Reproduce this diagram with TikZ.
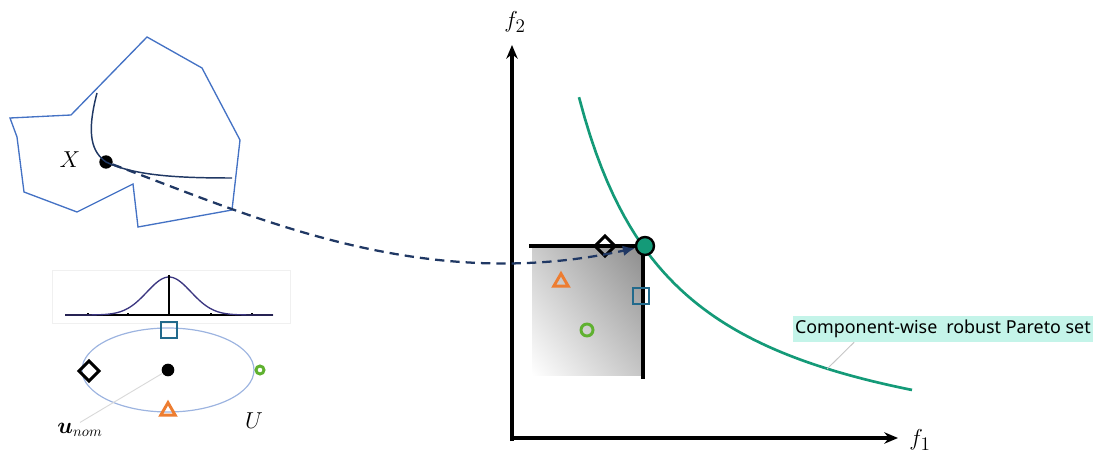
\documentclass[tikz,border=0pt]{standalone}
\usepackage{amsmath}
\usepackage{fontspec}
\newfontfamily\pflabelfont{Noto Sans}
\usetikzlibrary{arrows.meta,positioning,shapes.geometric,shadings}
\definecolor{pfNavy}{HTML}{203864}
\definecolor{pfBlue}{HTML}{4472C4}
\definecolor{pfLight}{HTML}{9DB4E0}
\definecolor{pfTeal}{HTML}{149A78}
\definecolor{pfSquare}{HTML}{226A8C}
\definecolor{pfOrange}{HTML}{ED7D31}
\definecolor{pfGreen}{HTML}{5FB130}
\definecolor{pfMint}{HTML}{C4F4E9}
\definecolor{pfPurple}{HTML}{3B3680}
\tikzset{
  every picture/.style={font=\fontsize{19}{22}\selectfont},
  pf axis/.style={draw=black, line width=2.4pt, line cap=butt,
    -{Stealth[length=3.6mm,width=3mm]}},
  pf edge/.style={draw=black, line width=2.4pt},
  pf domain/.style={draw=pfBlue, line width=1pt, line join=miter},
  pf path/.style={draw=pfNavy, line width=1.1pt},
  pf front/.style={draw=pfTeal, line width=2pt},
  pf map/.style={draw=pfNavy, line width=1.7pt, dash pattern=on 7pt off 4.5pt,
    -{Latex[length=3.2mm,width=2.8mm]}},
  pf leader/.style={draw=gray!45, line width=0.7pt},
  pf square/.style={draw=pfSquare, line width=2.2pt, minimum size=12pt, inner sep=0pt},
  pf diamond/.style={diamond, draw=black, line width=2.2pt, minimum size=16pt, inner sep=0pt},
  pf circle/.style={circle, draw=pfGreen, line width=2.2pt, minimum size=7pt, inner sep=0pt},
  pf triangle/.style={regular polygon, regular polygon sides=3, draw=pfOrange,
    line width=2.2pt, minimum size=12.5pt, inner sep=0pt},
  pf dot/.style={circle, fill=black, minimum size=9.5pt, inner sep=0pt}
}
\begin{document}
\begin{tikzpicture}[x=0.75pt,y=-0.75pt]
  \useasboundingbox (0,0) rectangle (1093,456);
  % decision space
  \draw[pf domain] (10,118) -- (17,137) -- (24,192) -- (77,212) -- (133,184) -- (138,227)
    -- (232,210) -- (240,140) -- (202,68) -- (147,37) -- (71,115) -- cycle;
  \node[pf dot, minimum size=10pt] (xopt) at (106,162) {};
  \draw[pf path] (97,93) .. controls (86,135) and (92,152) .. (xopt.center)
    .. controls (135,176) and (180,178) .. (232,178);
  \node (xlabel) at (70,160) {$X$};
  % uncertainty set
  \draw[draw=gray!12, line width=0.6pt] (52,270) rectangle (290,323);
  \draw[line width=0.8pt] (65,315) -- (273,315);
  \foreach \tx in {88,128,211,252}
    \draw[line width=0.8pt] (\tx,315) -- (\tx,313);
  \draw[draw=pfPurple, line width=1pt] plot[domain=65:273, samples=80]
    (\x, {315 - 38*exp(-((\x-169)/22)^2/2)});
  \draw[line width=1.7pt] (169,275) -- (169,315);
  \draw[draw=pfLight, line width=0.9pt] (168,370) ellipse [x radius=86, y radius=42];
  \node[pf dot] (unom) at (168,370) {};
  \node[pf square] (usq) at (169,330) {};
  \node[pf diamond] (udia) at (89,371) {};
  \node[pf circle, minimum size=6pt] (ucirc) at (260,370) {};
  \node[pf triangle] (utri) at (168,411) {};
  \node[font=\fontsize{16}{19}\selectfont] (unomlabel) at (80,430) {$\boldsymbol{u}_{nom}$};
  \node (ulabel) at (254,421) {$U$};
  \draw[pf leader, draw=gray!30] (unomlabel.north) ++(0,-3pt) -- (unom);
  % objective space
  \shade[upper left=gray!40, upper right=gray!90, lower left=white, lower right=gray!45]
    (532,246) rectangle (643,375);
  \coordinate (origin) at (512,441);
  \coordinate (f2end) at (512,45);
  \coordinate (hstart) at (510,438);
  \coordinate (f1end) at (898,438);
  \draw[pf axis] (origin) -- (f2end);
  \draw[pf axis] (hstart) -- (f1end);
  \node (ftwo) at (515,22) {$f_2$};
  \node (fone) at (920,440) {$f_1$};
  \draw[pf edge] (529,246) -- (643,246) -- (643,379);
  \draw[pf front] plot[domain=579:912, samples=60] (\x, {477 - 376/((\x-480)/100)});
  \node[pf diamond] (fdia) at (605,246) {};
  \node[pf triangle] (ftri) at (561,282) {};
  \node[pf square] (fsq) at (641,296) {};
  \node[pf circle, minimum size=9pt] (fcirc) at (587,330) {};
  \node[circle, fill=pfTeal, draw=black, line width=1.8pt, minimum size=13.5pt,
    inner sep=0pt] (fopt) at (645,246) {};
  \draw[pf map] (xopt) .. controls (250,215) and (420,295) .. (fopt);
  % robust front label
  \node[fill=pfMint, inner xsep=1.5pt, inner ysep=3pt, anchor=east,
    font=\pflabelfont\fontsize{13.4}{16}\selectfont] (frontlabel) at (1093,329)
    {Component-wise\enspace robust Pareto set};
  \coordinate (frontpt) at (827,369);
  \draw[pf leader] ([xshift=46pt]frontlabel.south west) -- (frontpt);
\end{tikzpicture}
\end{document}
